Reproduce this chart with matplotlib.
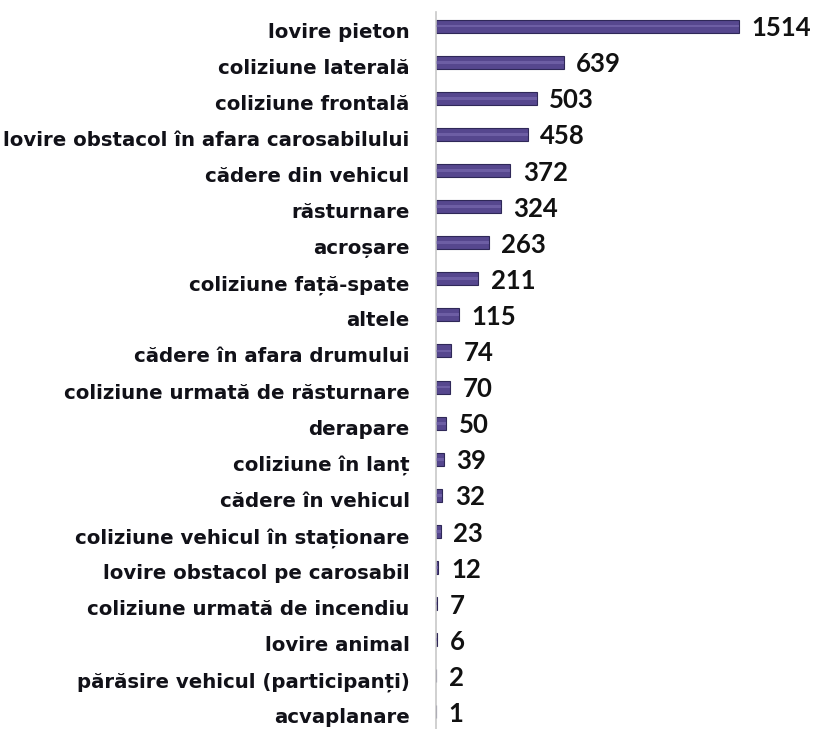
import matplotlib
matplotlib.use("Agg")
import matplotlib.pyplot as plt
import matplotlib.transforms as mtransforms

# categorii si valori (ordinea din grafic, de sus in jos)
categorii = [
    "lovire pieton",
    "coliziune laterală",
    "coliziune frontală",
    "lovire obstacol în afara carosabilului",
    "cădere din vehicul",
    "răsturnare",
    "acroșare",
    "coliziune față-spate",
    "altele",
    "cădere în afara drumului",
    "coliziune urmată de răsturnare",
    "derapare",
    "coliziune în lanț",
    "cădere în vehicul",
    "coliziune vehicul în staționare",
    "lovire obstacol pe carosabil",
    "coliziune urmată de incendiu",
    "lovire animal",
    "părăsire vehicul (participanți)",
    "acvaplanare",
]
valori = [1514, 639, 503, 458, 372, 324, 263, 211, 115, 74, 70, 50, 39, 32, 23, 12, 7, 6, 2, 1]

fonte_val = ["Lato", "DejaVu Sans"]
fonte_cat = ["DejaVu Sans"]
cor_bara = "#56478e"
cor_margine = "#2f2858"
cor_luz = "#8a7cc0"

fig = plt.figure(figsize=(8.17, 7.29), dpi=100)
ax = fig.add_axes([436 / 817, 0.0, 1 - 436 / 817, 1 - 12 / 729])

pos = list(range(len(categorii)))
ax.barh(pos, valori, height=0.36, color=cor_bara, edgecolor=cor_margine, linewidth=0.8, zorder=2)
# faixa clara no meio da barra (efeito 3D)
ax.barh(pos, valori, height=0.08, color=cor_luz, linewidth=0, alpha=0.45, zorder=3)

for p, v in zip(pos, valori):
    ax.annotate(str(v), xy=(v, p), xytext=(9, -1.5), textcoords="offset points",
                ha="left", va="center", fontsize=18.5, fontweight=700,
                family=fonte_val, color="#111111")

ax.set_xlim(0, 1904)
ax.set_ylim(len(categorii) - 1 + 0.471, -0.388)
ax.set_yticks(pos)
ax.set_yticklabels(categorii, fontsize=14.2, fontweight="bold", family=fonte_cat, color="#111118")
ax.tick_params(axis="y", length=0, pad=19)
ax.set_xticks([])

# rotulos um pouco abaixo do centro da barra, como no original
desloc = mtransforms.ScaledTranslation(0, -4 / 100, fig.dpi_scale_trans)
for rot in ax.yaxis.get_majorticklabels():
    rot.set_transform(rot.get_transform() + desloc)

for lado in ["top", "right", "bottom"]:
    ax.spines[lado].set_visible(False)
ax.spines["left"].set_color("#c8c8c8")
ax.spines["left"].set_linewidth(1.2)

fig.savefig("out.png", dpi=100, facecolor="white")
